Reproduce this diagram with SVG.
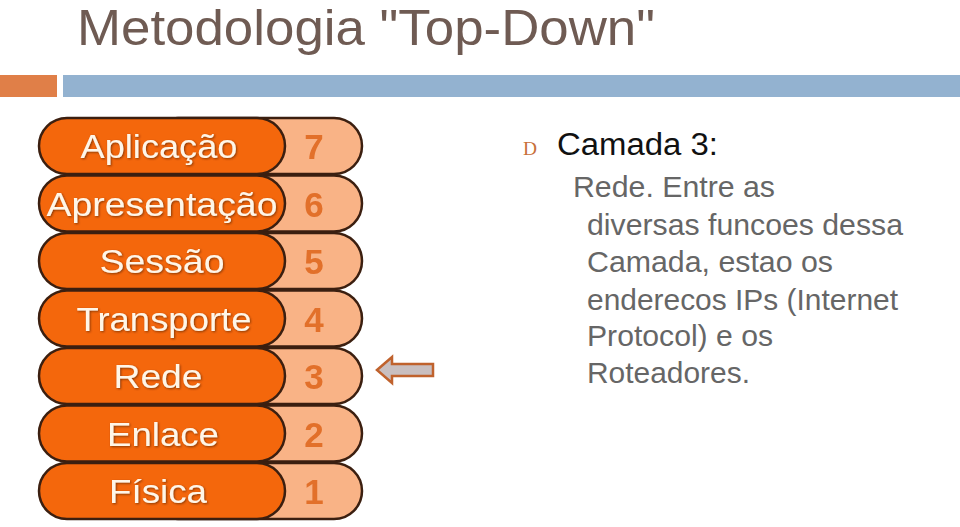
<svg xmlns="http://www.w3.org/2000/svg" width="960" height="527" viewBox="0 0 960 527">
<defs>
<filter id="sh" x="-10%" y="-30%" width="120%" height="160%">
<feDropShadow dx="1" dy="1" stdDeviation="0.8" flood-color="#5a2000" flood-opacity="0.7"/>
</filter>
<filter id="soft" x="-20%" y="-20%" width="140%" height="140%">
<feGaussianBlur stdDeviation="0.6"/>
</filter>
</defs>
<style>
.title{font-family:"Liberation Sans",Arial,sans-serif;font-size:50px;fill:#6f5b53}
.num-pill{fill:#f9b386;stroke:#3b1f10;stroke-width:2.5}
.lay-pill{fill:#f4670c;stroke:#3b1f10;stroke-width:2.5}
.lbl{font-family:"Liberation Sans",Arial,sans-serif;font-size:34px;fill:#fff6e8;text-anchor:middle;filter:url(#sh)}
.num{font-family:"Liberation Sans",Arial,sans-serif;font-size:35px;font-weight:bold;fill:#e2702a;text-anchor:middle;filter:url(#soft)}
.head{font-family:"Liberation Sans",Arial,sans-serif;font-size:31px;fill:#111111}
.body{font-family:"Liberation Sans",Arial,sans-serif;font-size:30px;fill:#666666}
.bullet{font-family:"Liberation Serif","Times New Roman",serif;font-size:18px;fill:#c8703a}
</style>
<rect width="960" height="527" fill="#ffffff"/>
<g id="title">
<text class="title" x="77" y="45" textLength="578" lengthAdjust="spacingAndGlyphs">Metodologia "Top-Down"</text>
<rect x="0" y="75" width="57" height="22" fill="#e07f48"/>
<rect x="63" y="75" width="897" height="22" fill="#93b2d0"/>
</g>
<g id="layer7">
<rect class="num-pill" x="150" y="118" width="212" height="56" rx="28"/>
<rect class="lay-pill" x="39" y="118" width="246" height="56" rx="28"/>
<text class="lbl" x="159" y="158" textLength="157" lengthAdjust="spacingAndGlyphs">Aplicação</text>
<text class="num" x="314" y="159">7</text>
</g>
<g id="layer6">
<rect class="num-pill" x="150" y="175.5" width="212" height="56" rx="28"/>
<rect class="lay-pill" x="39" y="175.5" width="246" height="56" rx="28"/>
<text class="lbl" x="162" y="215.5" textLength="231" lengthAdjust="spacingAndGlyphs">Apresentação</text>
<text class="num" x="314" y="216.5">6</text>
</g>
<g id="layer5">
<rect class="num-pill" x="150" y="233" width="212" height="56" rx="28"/>
<rect class="lay-pill" x="39" y="233" width="246" height="56" rx="28"/>
<text class="lbl" x="162" y="273" textLength="125" lengthAdjust="spacingAndGlyphs">Sessão</text>
<text class="num" x="314" y="274">5</text>
</g>
<g id="layer4">
<rect class="num-pill" x="150" y="290.5" width="212" height="56" rx="28"/>
<rect class="lay-pill" x="39" y="290.5" width="246" height="56" rx="28"/>
<text class="lbl" x="164" y="330.5" textLength="175" lengthAdjust="spacingAndGlyphs">Transporte</text>
<text class="num" x="314" y="331.5">4</text>
</g>
<g id="layer3">
<rect class="num-pill" x="150" y="348" width="212" height="56" rx="28"/>
<rect class="lay-pill" x="39" y="348" width="246" height="56" rx="28"/>
<text class="lbl" x="158" y="388" textLength="89" lengthAdjust="spacingAndGlyphs">Rede</text>
<text class="num" x="314" y="389">3</text>
</g>
<g id="layer2">
<rect class="num-pill" x="150" y="405.5" width="212" height="56" rx="28"/>
<rect class="lay-pill" x="39" y="405.5" width="246" height="56" rx="28"/>
<text class="lbl" x="163" y="445.5" textLength="112" lengthAdjust="spacingAndGlyphs">Enlace</text>
<text class="num" x="314" y="446.5">2</text>
</g>
<g id="layer1">
<rect class="num-pill" x="150" y="463" width="212" height="56" rx="28"/>
<rect class="lay-pill" x="39" y="463" width="246" height="56" rx="28"/>
<text class="lbl" x="158" y="503" textLength="98" lengthAdjust="spacingAndGlyphs">Física</text>
<text class="num" x="314" y="504">1</text>
</g>
<g id="connectors">
<polygon points="377,370 392,357 392,364 433,364 433,376 392,376 392,383" fill="#c9bfc0" stroke="#c0622d" stroke-width="2.5" stroke-linejoin="miter"/>
</g>
<g id="description">
<text class="bullet" x="523" y="155" textLength="14" lengthAdjust="spacingAndGlyphs">D</text>
<text class="head" x="557" y="155" textLength="161" lengthAdjust="spacingAndGlyphs">Camada 3:</text>
<text class="body" x="573" y="197" textLength="202" lengthAdjust="spacingAndGlyphs">Rede. Entre as</text>
<text class="body" x="587" y="235" textLength="316" lengthAdjust="spacingAndGlyphs">diversas funcoes dessa</text>
<text class="body" x="587" y="272" textLength="246" lengthAdjust="spacingAndGlyphs">Camada, estao os</text>
<text class="body" x="587" y="310" textLength="311" lengthAdjust="spacingAndGlyphs">enderecos IPs (Internet</text>
<text class="body" x="587" y="346" textLength="186" lengthAdjust="spacingAndGlyphs">Protocol) e os</text>
<text class="body" x="587" y="383" textLength="163" lengthAdjust="spacingAndGlyphs">Roteadores.</text>
</g>
</svg>
